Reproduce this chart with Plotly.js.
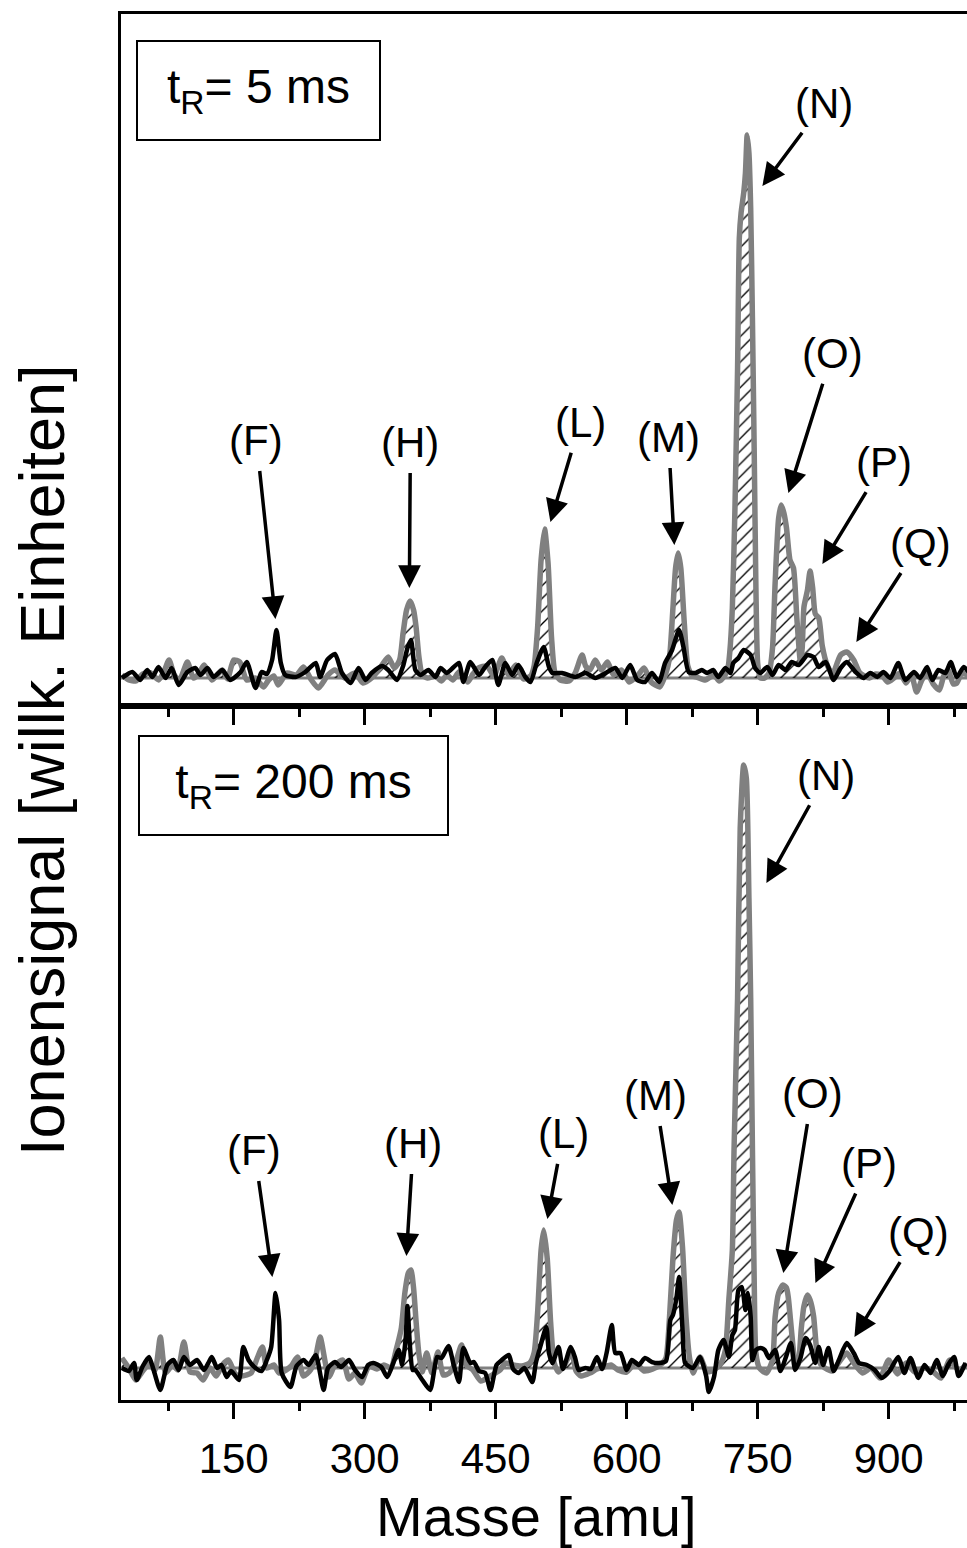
<!DOCTYPE html>
<html>
<head>
<meta charset="utf-8">
<script src="https://cdn.plot.ly/plotly-3.0.1.min.js"></script>
<style>
html,body{margin:0;padding:0;background:#fff;overflow:hidden;}
#chart{width:1000px;height:1548px;}
</style>
</head>
<body>
<div id="chart"></div>
<script>
// ---- Data (mass in amu, ion signal in arbitrary units) ----
// t_R = 5 ms, grey spectrum
const x5Gray = [22,30,38,46,55,64,70,76,82,88,97,104,110,116,125,131,137,143,150,157,165,175,184,190,196,201,211,222,230,239,247,258,266,277,289,298,308,320,327,334,340,344,348,352,356,359,362,366,372,381,388,394,401,408,418,424,430,440,448,457,465,473,482,490,494,498,502,506,510,514,518,524,534,541,549,553,558,564,571,578,585,594,603,613,620,628,638,645,649,653,656,659,662,666,670,675,680,690,700,706,712,716,718,721,724,727,729,731,734,736,738,740,742,744,746,748,750,753,758,763,767,770,774,777,780,783,787,791,795,799,801,803,807,810,813,816,820,824,830,836,841,845,852,860,867,878,885,892,899,906,913,920,926,932,938,944,951,958,963,968,974,978,984,990,996];
const y5Gray = [3,-2,-3,4,5,-2,6,18,3,-2,16,0,4,13,-2,3,8,-1,18,16,-2,0,-9,-2,2,-7,5,3,11,-2,-10,3,8,0,5,-5,0,13,21,10,18,45,68,77,68,50,22,3,0,2,-3,3,-2,6,-4,4,10,12,2,20,3,13,-1,2,12,50,118,149,115,40,5,-2,-3,5,23,12,8,18,8,16,3,8,-4,3,10,-4,-9,5,20,70,110,125,110,55,12,2,1,-2,3,-3,2,10,25,70,170,310,440,465,485,505,543,525,470,360,230,90,15,0,0,5,30,95,160,173,165,150,118,110,58,16,30,71,88,107,90,64,60,32,12,4,15,23,26,18,5,0,4,3,-4,0,5,-5,3,-14,-2,5,-6,-12,2,8,-6,-5,5,3,-4];

// t_R = 5 ms, black spectrum
const x5Black = [22,34,43,51,57,64,72,79,87,97,106,112,120,127,137,146,158,165,175,182,188,194,199,204,209,221,232,244,249,257,266,274,284,293,301,308,320,327,337,344,349,353,358,364,373,381,387,394,408,413,421,431,438,446,453,461,469,476,484,490,497,505,511,515,526,541,553,564,576,587,595,604,612,621,629,637,644,652,660,665,671,679,686,692,699,705,713,719,722,728,734,742,747,753,761,767,774,782,789,797,807,814,820,828,837,845,852,862,871,879,887,894,902,911,919,929,936,944,950,957,965,971,978,986,995];
const y5Black = [0,6,-2,8,1,11,0,10,-7,6,10,3,10,1,8,-2,6,16,-10,6,4,18,48,15,3,1,6,15,1,18,24,5,-5,10,-2,5,12,8,-2,12,30,38,8,3,8,1,10,5,15,-4,16,3,11,18,-7,15,3,13,1,-4,15,31,11,5,5,1,5,0,5,10,0,13,-2,-4,5,-4,15,28,48,31,6,5,8,5,8,1,10,5,15,20,28,23,10,5,11,3,13,8,16,13,23,21,11,16,-2,10,16,6,0,5,1,6,0,15,-2,6,0,11,-2,8,5,16,1,11,2];

// t_R = 200 ms, grey spectrum
const x200Gray = [22,30,38,46,53,60,66,72,80,86,93,100,108,115,123,130,137,144,152,160,170,177,183,188,196,202,210,216,223,230,238,244,249,255,259,266,275,282,289,296,305,314,322,330,336,339,342,346,350,353,356,359,362,366,371,377,384,390,397,405,411,416,424,433,444,455,461,470,480,489,494,498,502,505,509,513,517,522,530,537,542,548,558,566,574,582,590,600,610,620,630,640,645,649,653,657,660,664,668,672,676,684,692,700,708,713,717,721,723,727,730,734,737,740,742,744,746,748,752,760,767,770,774,779,783,785,789,793,796,800,803,807,810,814,818,822,827,835,845,852,860,870,880,890,900,910,920,930,940,950,960,970,980,990];
const y200Gray = [10,0,-12,-3,4,-2,31,-5,3,-2,26,-4,-5,-12,0,-8,3,8,-6,-8,-5,10,21,0,3,-5,-2,2,11,-8,-2,12,31,5,-9,3,8,-11,-5,-15,2,-1,3,0,18,28,40,75,95,98,80,45,15,-4,15,-5,16,-7,-5,8,23,3,-2,-13,-8,-2,5,3,2,5,15,55,118,138,110,45,5,-4,5,16,-3,-8,-5,-1,1,3,-2,-4,5,-3,-1,4,10,50,110,148,156,120,50,10,-5,11,-4,-2,5,18,68,118,220,370,540,603,590,470,370,220,90,15,0,-5,8,51,75,83,80,71,35,5,2,40,62,73,68,52,15,4,0,-3,8,15,5,-5,0,-10,8,-6,5,-4,0,-3,-10,8,-2,4];

// t_R = 200 ms, black spectrum
const x200Black = [22,30,36,39,46,53,58,66,74,81,87,93,100,108,116,121,125,131,136,142,147,156,161,167,175,182,188,193,198,202,205,215,222,230,236,244,253,258,266,273,282,289,297,304,310,319,326,334,339,343,347,349,352,355,358,366,375,383,388,396,402,408,413,421,425,431,438,444,451,457,465,470,476,483,492,496,501,508,511,515,522,527,536,541,545,553,559,566,572,577,583,587,593,600,606,614,621,629,637,645,650,653,657,660,664,667,676,684,691,694,700,705,711,717,721,724,728,732,736,739,742,744,748,753,758,763,770,776,782,788,793,799,805,810,816,820,825,831,837,843,852,860,866,875,884,892,901,911,918,925,934,941,948,955,962,968,975,980,988];
const y200Black = [0,-3,5,-12,2,11,-1,-22,3,8,-2,11,3,8,-2,5,11,0,3,-9,-3,-12,21,8,0,-3,8,21,75,48,-5,-19,2,8,3,13,-22,0,6,1,8,-2,-9,3,5,1,-9,8,18,3,30,62,20,-2,-2,-12,-22,11,10,22,3,-14,20,5,6,-3,-5,-22,3,8,13,-1,-5,0,-14,5,21,41,15,5,21,-1,21,10,-2,0,-1,11,-1,15,43,15,15,-2,8,3,10,6,5,7,48,53,70,91,38,5,0,11,-8,-24,-9,18,28,11,33,38,78,81,58,75,51,8,18,20,18,10,18,-3,10,25,-2,10,30,23,5,21,3,20,-3,8,25,15,5,3,-2,-10,-3,11,-5,10,-10,3,-5,8,-8,3,11,-8,5];

// Peak labels
const peakLabels = ["(F)","(H)","(L)","(M)","(N)","(O)","(P)","(Q)"];
const headX5 = [197.8,351.2,512.7,654.6,755.4,785.2,824.1,863.0];
const headY5 = [59,90,156,133,492,185,114,36];
const headX200 = [194.3,347.8,509.2,652.3,760.0,779.4,816.1,860.8];
const headY200 = [91,112,149,163,485,95,85,31];

const xTickStep = 150;
const xMinorStep = 75;
const panelTexts = ["t<sub>R</sub>= 5 ms","t<sub>R</sub>= 200 ms"];

// ---- Styling / layout ----
const FONT = "Liberation Sans, Arial, Helvetica, sans-serif";
const GRAY = "#808080";

function fillTrace(x, y, xa, ya){
  return {x:x, y:y.map(v => Math.max(0, v)), xaxis:xa, yaxis:ya, type:'scatter', mode:'lines',
    line:{width:0, shape:'spline', smoothing:0.5}, fill:'tozeroy', fillcolor:'rgba(0,0,0,0)',
    fillpattern:{shape:'/', fgcolor:'black', bgcolor:'rgba(0,0,0,0)', size:9, solidity:0.15},
    hoverinfo:'skip'};
}
function lineTrace(x, y, xa, ya, color, w){
  return {x:x, y:y, xaxis:xa, yaxis:ya, type:'scatter', mode:'lines',
    line:{color:color, width:w, shape:'spline', smoothing:0.6}};
}

const traces = [
  fillTrace(x5Gray, y5Gray, 'x2', 'y2'),
  lineTrace(x5Gray, y5Gray, 'x2', 'y2', GRAY, 5.5),
  lineTrace(x5Black, y5Black, 'x2', 'y2', 'black', 4.5),
  fillTrace(x200Gray, y200Gray, 'x', 'y'),
  lineTrace(x200Gray, y200Gray, 'x', 'y', GRAY, 5.5),
  lineTrace(x200Black, y200Black, 'x', 'y', 'black', 4.5)
];

// label text offsets (pixels, text centre relative to arrow head)
const off5 = [[-19,-179],[1,-146],[30,-100],[-6,-108],[62,-83],[44,-140],[62,-102],[64,-99]];
const off200 = [[-18,-127],[7,-113],[16,-86],[-17,-110],[60,-108],[29,-180],[54,-120],[64,-105]];

const annotations = [];
peakLabels.forEach((t, i) => {
  annotations.push({xref:'x2', yref:'y2', x:headX5[i], y:headY5[i], text:t, showarrow:true,
    ax:off5[i][0], ay:off5[i][1], arrowhead:2, arrowsize:1.3, arrowwidth:3.5, arrowcolor:'black',
    startstandoff:6, font:{family:FONT, size:42, color:'black'}});
  annotations.push({xref:'x', yref:'y', x:headX200[i], y:headY200[i], text:t, showarrow:true,
    ax:off200[i][0], ay:off200[i][1], arrowhead:2, arrowsize:1.3, arrowwidth:3.5, arrowcolor:'black',
    startstandoff:6, font:{family:FONT, size:42, color:'black'}});
});
annotations.push({xref:'x2 domain', yref:'y2 domain', x:0.0175, y:0.962, xanchor:'left', yanchor:'top',
  text:panelTexts[0], showarrow:false, bordercolor:'black', borderwidth:2, borderpad:0,
  width:241, height:97, align:'center', valign:'middle', font:{family:FONT, size:48, color:'black'}});
annotations.push({xref:'x domain', yref:'y domain', x:0.0199, y:0.958, xanchor:'left', yanchor:'top',
  text:panelTexts[1], showarrow:false, bordercolor:'black', borderwidth:2, borderpad:0,
  width:307, height:97, align:'center', valign:'middle', font:{family:FONT, size:48, color:'black'}});
annotations.push({xref:'paper', yref:'paper', x:-0.0924, y:0.4618, xanchor:'center', yanchor:'middle',
  text:'Ionensignal [willk. Einheiten]', textangle:-90, showarrow:false,
  font:{family:FONT, size:63, color:'black'}});
annotations.push({xref:'paper', yref:'paper', x:0.4865, y:-0.0844, xanchor:'center', yanchor:'middle',
  text:'Masse [amu]', showarrow:false, font:{family:FONT, size:56, color:'black'}});

const xBase = {
  range:[21,1000], tick0:0, dtick:xTickStep, ticks:'outside', ticklen:16, tickwidth:3, tickcolor:'black',
  showline:true, linewidth:3, linecolor:'black', mirror:true, showgrid:false, zeroline:false,
  tickfont:{family:FONT, size:42, color:'black'}, ticklabelstandoff:4,
  minor:{tick0:0, dtick:xMinorStep, ticks:'outside', ticklen:8, tickwidth:3, tickcolor:'black', showgrid:false}
};
const yBase = {showticklabels:false, ticks:'', showline:true, linewidth:3, linecolor:'black',
  mirror:true, showgrid:false, zeroline:false};

const split = 0.50072;
const layout = {
  width:1000, height:1548,
  margin:{l:121, r:24, t:14, b:148},
  paper_bgcolor:'white', plot_bgcolor:'white', showlegend:false,
  font:{family:FONT, color:'black'},
  xaxis:Object.assign({}, xBase, {anchor:'y'}),
  xaxis2:Object.assign({}, xBase, {anchor:'y2', matches:'x', showticklabels:false}),
  yaxis:Object.assign({}, yBase, {domain:[0, split], range:[-32, 662]}),
  yaxis2:Object.assign({}, yBase, {domain:[split, 1], range:[-28, 664]}),
  shapes:[
    {type:'line', xref:'x domain', yref:'y', x0:0, x1:1, y0:0, y1:0, layer:'below', line:{color:GRAY, width:3}},
    {type:'line', xref:'x2 domain', yref:'y2', x0:0, x1:1, y0:0, y1:0, layer:'below', line:{color:GRAY, width:3}}
  ],
  annotations:annotations
};

Plotly.newPlot('chart', traces, layout, {staticPlot:true, displayModeBar:false});
</script>
</body>
</html>
